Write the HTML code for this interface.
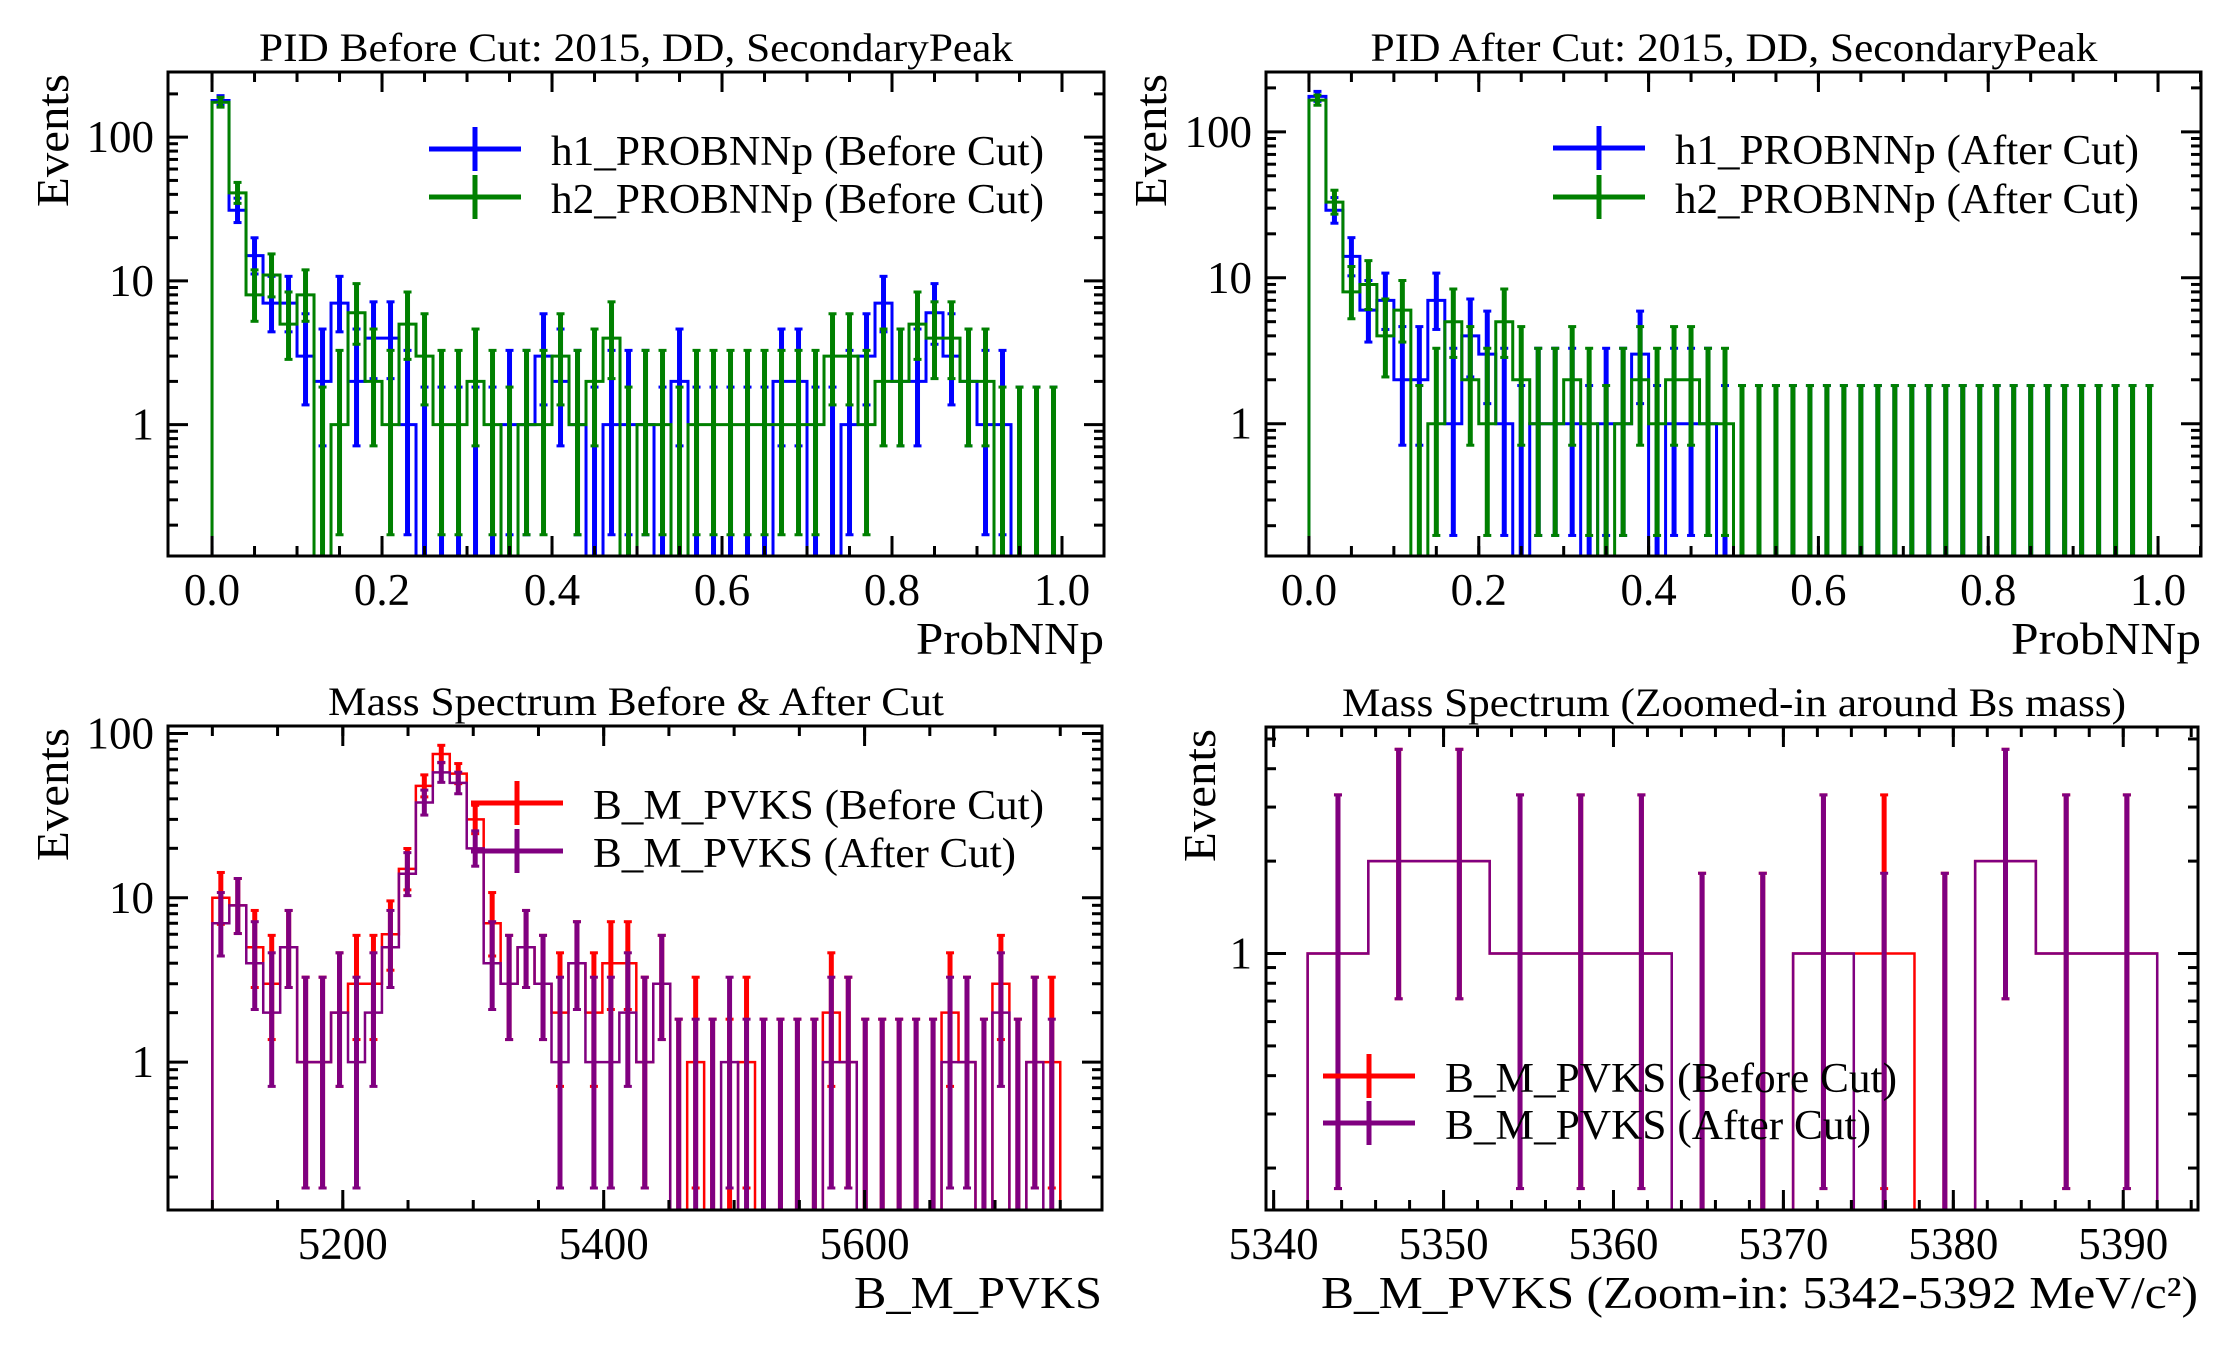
<!DOCTYPE html>
<html><head><meta charset="utf-8"><style>
html,body{margin:0;padding:0;background:#fff}
svg{display:block;font-family:"Liberation Serif","DejaVu Serif",serif}
</style></head><body>
<svg id="fig" width="2230" height="1350" viewBox="0 0 2230 1350" xmlns="http://www.w3.org/2000/svg">
<rect x="0" y="0" width="2230" height="1350" fill="#fff"/>
</svg>
<script>
// ---------- data ----------
const pidBinCount = 50;
const h1Before = [180,31,15,7,7,3,2,7,2,4,4,1,0,0,0,0,0,1,1,3,2,1,0,1,1,1,0,2,0,0,0,0,0,2,2,0,0,1,3,7,2,2,6,3,2,1,1,0,0,0];
const h2Before = [175,41,8,11,5,8,0,1,6,2,1,5,3,1,1,2,1,0,1,1,3,1,2,4,0,1,1,0,1,1,1,1,1,1,1,1,3,3,1,2,2,5,4,4,2,2,0,0,0,0];
const h1After  = [175,29,14,6,7,2,2,7,1,4,3,1,0,1,1,1,0,1,1,3,0,1,1,1,0,0,0,0,0,0,0,0,0,0,0,0,0,0,0,0,0,0,0,0,0,0,0,0,0,0];
const h2After  = [165,33,8,9,4,6,0,1,5,2,1,5,2,1,1,2,1,0,1,2,1,2,2,1,1,0,0,0,0,0,0,0,0,0,0,0,0,0,0,0,0,0,0,0,0,0,0,0,0,0];
const massBefore = [10,9,5,3,5,1,1,2,3,3,6,15,48,75,57,30,7,3,5,3,2,4,2,4,4,1,3,0,1,0,0,1,0,0,0,0,2,1,0,0,0,0,0,2,1,0,3,0,1,1];
const massAfter  = [7,9,4,2,5,1,1,2,1,2,5,14,38,58,50,20,4,3,5,3,1,4,1,1,2,1,3,0,0,0,1,0,0,0,0,0,1,1,0,0,0,0,0,1,1,0,2,0,1,0];
const zoomBefore = [1,2,2,1,1,1,0,0,1,1,0,2,1,1];
const zoomAfter  = [1,2,2,1,1,1,0,0,1,0,0,2,1,1];
const pidTicks = ["0.0","0.2","0.4","0.6","0.8","1.0"];
const massTicks = ["5200","5400","5600"];
const zoomTicks = ["5340","5350","5360","5370","5380","5390"];

// ---------- helpers ----------
const NS="http://www.w3.org/2000/svg";
const fig=document.getElementById('fig');
function mk(tag,attrs,parent){const e=document.createElementNS(NS,tag);for(const k in attrs)e.setAttribute(k,attrs[k]);(parent||fig).appendChild(e);return e;}
function gLow(n){return n<=0?0:n*Math.pow(1-1/(9*n)-1/(3*Math.sqrt(n)),3);}
function gUp(n){const m=n+1;return m*Math.pow(1-1/(9*m)+1/(3*Math.sqrt(m)),3);}

let clipId=0;
function panel(c){
  const g=mk('g',{});
  
  
  const X=v=>c.L+(v-c.xmin)/(c.xmax-c.xmin)*(c.R-c.L);
  const Y=v=>c.B-(Math.log10(v)-Math.log10(c.ymin))/(Math.log10(c.ymax)-Math.log10(c.ymin))*(c.B-c.T);
  const id='clip'+(clipId++);
  const cp=mk('clipPath',{id:id},g);mk('rect',{x:c.L,y:c.T,width:c.R-c.L,height:c.B-c.T},cp);
  const dg=mk('g',{'clip-path':'url(#'+id+')'},g);
  c.series.forEach(s=>{
    const n=s.vals.length,w=(c.hi-c.lo)/n;
    const bot=c.B+50;
    let d='M'+X(c.lo)+','+bot;
    for(let i=0;i<n;i++){const y=s.vals[i]>0?Y(s.vals[i]):bot;d+=' L'+X(c.lo+i*w)+','+y+' L'+X(c.lo+(i+1)*w)+','+y;}
    d+=' L'+X(c.hi)+','+bot;
    const p=mk('path',{d:d,fill:'none',stroke:s.color,'stroke-width':c.lw||3},dg);
    
    
    for(let i=0;i<n;i++){
      const v=s.vals[i],xc=X(c.lo+(i+0.5)*w);
      const lo=gLow(v),up=gUp(v);
      const y1=lo>0?Y(lo):bot,y2=Y(up);
      const e=mk('line',{x1:xc,x2:xc,y1:y1,y2:y2,stroke:s.color,'stroke-width':5},dg);
      
      
      mk('line',{x1:xc-4,x2:xc+4,y1:y2,y2:y2,stroke:s.color,'stroke-width':3},dg);
      if(lo>0)mk('line',{x1:xc-4,x2:xc+4,y1:y1,y2:y1,stroke:s.color,'stroke-width':3},dg);
    }
  });
  // frame
  const fr=mk('rect',{x:c.L,y:c.T,width:c.R-c.L,height:c.B-c.T,fill:'none',stroke:'#000','stroke-width':3},g);
  
  
  // x ticks
  for(let v=c.minorStart;v<=c.xmax+1e-9;v+=c.minorStep){
    const x=X(v);if(x<c.L||x>c.R)continue;
    mk('line',{x1:x,x2:x,y1:c.B,y2:c.B-10,stroke:'#000','stroke-width':3},g);
    mk('line',{x1:x,x2:x,y1:c.T,y2:c.T+10,stroke:'#000','stroke-width':3},g);
  }
  c.xticks.forEach(t=>{
    const x=X(parseFloat(t));
    mk('line',{x1:x,x2:x,y1:c.B,y2:c.B-20,stroke:'#000','stroke-width':3},g);
    mk('line',{x1:x,x2:x,y1:c.T,y2:c.T+20,stroke:'#000','stroke-width':3},g);
    const tx=mk('text',{x:x,y:c.B+49,'font-size':45,'text-anchor':'middle'},g);tx.textContent=t;
    
    
  });
  // y ticks
  for(let e=-2;e<=3;e++){for(let m=1;m<10;m++){
    const v=m*Math.pow(10,e);if(v<c.ymin||v>c.ymax)continue;
    const y=Y(v),len=m===1?20:10;
    mk('line',{x1:c.L,x2:c.L+len,y1:y,y2:y,stroke:'#000','stroke-width':3},g);
    mk('line',{x1:c.R,x2:c.R-len,y1:y,y2:y,stroke:'#000','stroke-width':3},g);
    if(m===1&&e>=0){
      const ty=mk('text',{x:c.L-14,y:y+15,'font-size':45,'text-anchor':'end'},g);ty.textContent=String(v);
      
      
    }
  }}
  // labels
  const ti=mk('text',{x:c.titleX,y:c.T-11,'font-size':40,'text-anchor':'middle',textLength:c.titleW,lengthAdjust:'spacingAndGlyphs'},g);ti.textContent=c.title;
  
  
  const xl=mk('text',{x:c.R,y:c.B+98,'font-size':46,'text-anchor':'end',textLength:c.xlW,lengthAdjust:'spacingAndGlyphs'},g);xl.textContent=c.xlabel;
  
  
  const yl=mk('text',{x:0,y:0,'font-size':46,'text-anchor':'end',textLength:133,lengthAdjust:'spacingAndGlyphs',transform:'translate('+c.ylX+','+(c.T+2)+') rotate(-90)'},g);yl.textContent='Events';
  
  
  // legend
  c.series.forEach((s,i)=>{
    const y=c.legY+i*c.legDY;
    const lg=mk('g',{},g);
    
    
    mk('line',{x1:c.legX,x2:c.legX+92,y1:y,y2:y,stroke:s.color,'stroke-width':5},lg);
    mk('line',{x1:c.legX+46,x2:c.legX+46,y1:y-22,y2:y+22,stroke:s.color,'stroke-width':5},lg);
    const t=mk('text',{x:c.legX+122,y:y+16,'font-size':42,textLength:s.lw,lengthAdjust:'spacingAndGlyphs'},lg);t.textContent=s.label;
  });
}

panel({name:'pid-before-panel',L:168,R:1104,T:72,B:556,xmin:-0.0518,xmax:1.0494,lo:0,hi:1,ymin:0.122,ymax:284,
  series:[{key:'h1-before',vals:h1Before,color:'#0000ff',label:'h1_PROBNNp (Before Cut)',lw:493},
          {key:'h2-before',vals:h2Before,color:'#008000',label:'h2_PROBNNp (Before Cut)',lw:493}],
  xticks:pidTicks,minorStart:0,minorStep:0.05,title:'PID Before Cut: 2015, DD, SecondaryPeak',titleX:636,titleW:754,
  xlabel:'ProbNNp',xlW:188,ylX:68,legX:429,legY:149,legDY:48});
panel({name:'pid-after-panel',L:1266,R:2201,T:72,B:556,xmin:-0.0506,xmax:1.0506,lo:0,hi:1,ymin:0.124,ymax:257,
  series:[{key:'h1-after',vals:h1After,color:'#0000ff',label:'h1_PROBNNp (After Cut)',lw:464},
          {key:'h2-after',vals:h2After,color:'#008000',label:'h2_PROBNNp (After Cut)',lw:464}],
  xticks:pidTicks,minorStart:0,minorStep:0.05,title:'PID After Cut: 2015, DD, SecondaryPeak',titleX:1734,titleW:727,
  xlabel:'ProbNNp',xlW:190,ylX:1166,legX:1553,legY:148,legDY:49});
panel({name:'mass-panel',L:168,R:1102,T:726,B:1210,xmin:5066,xmax:5782,lo:5100,hi:5750,ymin:0.126,ymax:111,lw:2.5,
  series:[{key:'mass-before',vals:massBefore,color:'#ff0000',label:'B_M_PVKS (Before Cut)',lw:451},
          {key:'mass-after',vals:massAfter,color:'#800080',label:'B_M_PVKS (After Cut)',lw:423}],
  xticks:massTicks,minorStart:5050,minorStep:50,title:'Mass Spectrum Before & After Cut',titleX:636,titleW:616,
  xlabel:'B_M_PVKS',xlW:248,ylX:68,legX:471,legY:803,legDY:48});
panel({name:'mass-zoom-panel',L:1266,R:2198,T:727,B:1210,xmin:5339.55,xmax:5394.4,lo:5342,hi:5392,ymin:0.146,ymax:5.47,lw:2.5,
  series:[{key:'zoom-before',vals:zoomBefore,color:'#ff0000',label:'B_M_PVKS (Before Cut)',lw:452},
          {key:'zoom-after',vals:zoomAfter,color:'#800080',label:'B_M_PVKS (After Cut)',lw:426}],
  xticks:zoomTicks,minorStart:5340,minorStep:2,title:'Mass Spectrum (Zoomed-in around Bs mass)',titleX:1734,titleW:784,
  xlabel:'B_M_PVKS (Zoom-in: 5342-5392 MeV/c²)',xlW:877,ylX:1215,legX:1323,legY:1076,legDY:47});
</script>
</body></html>
